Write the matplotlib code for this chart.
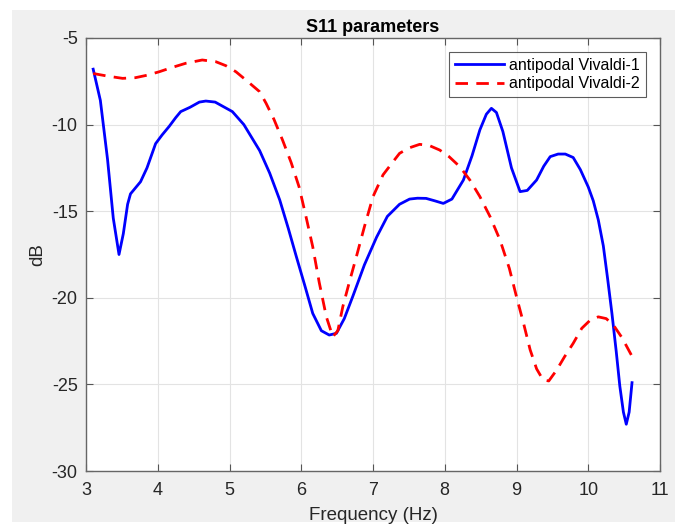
import matplotlib
matplotlib.use("Agg")
import matplotlib.pyplot as plt
from matplotlib.patches import Rectangle

# ---- data ----
freq_v1 = [3.1, 3.2, 3.3, 3.38, 3.46, 3.52, 3.58, 3.62, 3.7, 3.76, 3.85, 3.97, 4.06, 4.16,
           4.25, 4.32, 4.45, 4.58, 4.67, 4.8, 5.04, 5.2, 5.42, 5.56, 5.70, 5.82, 5.93, 6.05,
           6.16, 6.28, 6.39, 6.49, 6.6, 6.72, 6.88, 7.05, 7.2, 7.37, 7.51, 7.62, 7.74, 7.86,
           7.98, 8.1, 8.26, 8.38, 8.49, 8.58, 8.65, 8.72, 8.81, 8.93, 9.05, 9.15, 9.28, 9.38,
           9.47, 9.58, 9.68, 9.79, 9.89, 10.0, 10.07, 10.14, 10.21, 10.27, 10.33, 10.39, 10.44,
           10.49, 10.53, 10.57, 10.61]
s11_v1 = [-6.8, -8.6, -12.0, -15.4, -17.5, -16.3, -14.6, -14.0, -13.6, -13.3, -12.5, -11.1,
          -10.6, -10.1, -9.6, -9.25, -9.0, -8.7, -8.64, -8.7, -9.25, -10.0, -11.5, -12.8,
          -14.35, -16.0, -17.6, -19.3, -20.9, -21.9, -22.15, -22.05, -21.2, -19.9, -18.1,
          -16.5, -15.3, -14.6, -14.3, -14.25, -14.26, -14.4, -14.55, -14.3, -13.2, -11.8,
          -10.3, -9.4, -9.06, -9.3, -10.4, -12.5, -13.87, -13.8, -13.2, -12.4, -11.85, -11.7,
          -11.7, -11.9, -12.6, -13.6, -14.4, -15.5, -17.0, -18.9, -20.9, -23.1, -25.1, -26.6,
          -27.3, -26.6, -24.9]

freq_v2 = [3.1, 3.3, 3.51, 3.69, 3.85, 4.02, 4.2, 4.39, 4.62, 4.81, 4.95, 5.09, 5.25, 5.42,
           5.51, 5.62, 5.74, 5.86, 5.97, 6.06, 6.16, 6.25, 6.35, 6.44, 6.51, 6.58, 6.67, 6.77,
           6.88, 7.0, 7.14, 7.28, 7.37, 7.5, 7.65, 7.78, 7.93, 8.06, 8.21, 8.35, 8.49, 8.63,
           8.77, 8.9, 9.0, 9.1, 9.19, 9.28, 9.37, 9.45, 9.56, 9.67, 9.79, 9.91, 10.03, 10.14,
           10.25, 10.35, 10.47, 10.6]
s11_v2 = [-7.05, -7.2, -7.33, -7.29, -7.15, -6.95, -6.7, -6.46, -6.27, -6.37, -6.6, -6.95,
          -7.5, -8.1, -8.77, -9.7, -10.9, -12.2, -13.6, -15.2, -17.05, -19.1, -21.1, -22.25,
          -21.9, -20.5, -19.1, -17.6, -15.9, -14.16, -12.9, -12.14, -11.66, -11.35, -11.14,
          -11.2, -11.47, -11.85, -12.43, -13.2, -14.16, -15.3, -16.66, -18.3, -19.94, -21.5,
          -23.0, -24.1, -24.74, -24.8, -24.17, -23.4, -22.63, -21.76, -21.28, -21.1, -21.2,
          -21.57, -22.3, -23.3]

x_ticks = [3, 4, 5, 6, 7, 8, 9, 10, 11]
y_ticks = [-30, -25, -20, -15, -10, -5]
series_labels = ["antipodal Vivaldi-1", "antipodal Vivaldi-2"]

plt.rcParams['font.family'] = ['Liberation Sans', 'DejaVu Sans']
plt.rcParams['axes.unicode_minus'] = False

W, H = 682, 525
fig = plt.figure(figsize=(W / 100, H / 100), dpi=100)
fig.patch.set_facecolor('white')
# MATLAB-like gray figure area
fig.patches.append(Rectangle((12 / W, 3 / H), (675 - 12) / W, 1 - 13 / H,
                             transform=fig.transFigure, facecolor='#f0f0f0',
                             edgecolor='none', zorder=-10))

ax = fig.add_axes([86 / W, 1 - 471 / H, (660 - 86) / W, (471 - 38) / H])
ax.set_zorder(1)
ax.set_facecolor('white')

ax.plot(freq_v1, s11_v1, color='#0000ff', lw=2.0, label=series_labels[0],
        solid_joinstyle='round')
ax.plot(freq_v2, s11_v2, color='#ff0000', lw=2.0, ls=(0, (4.5, 3)), label=series_labels[1])

ax.set_xlim(3, 11)
ax.set_ylim(-30, -5)
ax.set_xticks(x_ticks)
ax.set_yticks(y_ticks)
ax.grid(True, color='#e3e3e3', lw=0.8)
ax.set_axisbelow(True)

dark = '#262626'
for s in ax.spines.values():
    s.set_color('#666666')
    s.set_linewidth(1.0)
ax.tick_params(direction='in', length=5, width=0.8, colors='#555555', labelcolor=dark,
               labelsize=13, top=True, right=True)
ax.tick_params(axis='x', pad=8)
ax.tick_params(axis='y', pad=6)

ax.set_title("S11 parameters", fontsize=13, fontweight='bold', color='black', pad=4)
ax.set_xlabel("Frequency (Hz)", fontsize=13.5, color=dark, labelpad=6)
ax.set_ylabel("dB", fontsize=13.5, color=dark, labelpad=4)

leg = ax.legend(loc='upper right', fontsize=11.5, frameon=True, fancybox=False,
                borderaxespad=0.9, handlelength=3.1, handletextpad=0.3,
                borderpad=0.35, labelspacing=0.2)
leg.get_frame().set_edgecolor('#333333')
leg.get_frame().set_linewidth(0.8)

fig.savefig("out.png", dpi=100, facecolor=fig.get_facecolor())
